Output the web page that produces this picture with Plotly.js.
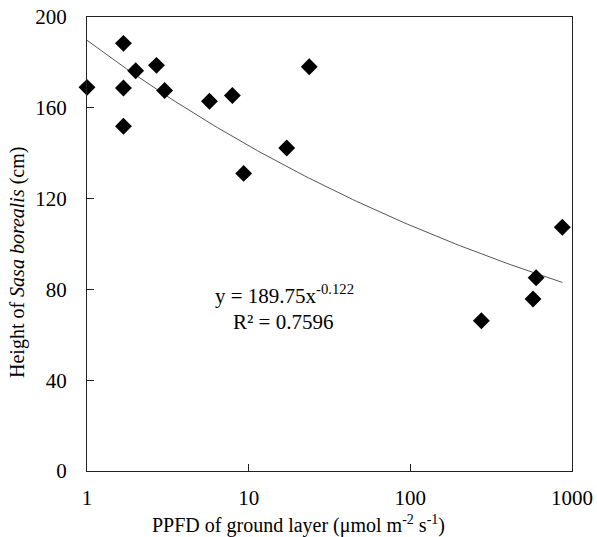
<!DOCTYPE html>
<html>
<head>
<meta charset="utf-8">
<script src="https://cdn.plot.ly/plotly-3.0.1.min.js"></script>
<style>html,body{margin:0;padding:0;background:#fff;}</style>
</head>
<body>
<div id="chart" style="width:597px;height:537px;"></div>
<script>
// Observed data: PPFD of ground layer vs height of Sasa borealis
const ppfd = [1.0, 1.68, 1.68, 1.68, 2.0, 2.69, 3.02, 5.72, 7.93, 9.31, 17.2, 23.7, 275, 574, 600, 871];
const height = [169.0, 188.4, 168.7, 151.9, 176.3, 178.7, 167.6, 162.9, 165.4, 131.1, 142.3, 178.1, 66.2, 75.8, 85.1, 107.4];

// Power-law fit reported on the chart: y = a * x^b
const fitA = 189.75;
const fitB = -0.122;
const fitR2 = 0.7596;

// Axis ticks
const xTickVals = [1, 10, 100, 1000];
const xTickText = ["1", "10", "100", "1000"];
const yTickVals = [0, 40, 80, 120, 160, 200];

// fitted curve evaluated along the x extent of the data
const xMin = Math.min(...ppfd), xMax = Math.max(...ppfd);
const fitX = [], fitY = [];
const nSteps = 120;
for (let i = 0; i <= nSteps; i++) {
  const lx = Math.log10(xMin) + (Math.log10(xMax) - Math.log10(xMin)) * i / nSteps;
  const xv = Math.pow(10, lx);
  fitX.push(xv);
  fitY.push(fitA * Math.pow(xv, fitB));
}

const FAM = 'Liberation Serif, Times New Roman, serif';
function f(size) { return {family: FAM, size: size, color: '#000'}; }

const traces = [
  {
    x: fitX, y: fitY, type: 'scatter', mode: 'lines',
    line: {color: '#555555', width: 1}, hoverinfo: 'skip', showlegend: false
  },
  {
    x: ppfd, y: height, type: 'scatter', mode: 'markers',
    marker: {symbol: 'diamond', size: 13, color: '#000'}, showlegend: false,
    cliponaxis: false
  }
];

const layout = {
  width: 597, height: 537,
  margin: {l: 87, r: 25, t: 17, b: 66},
  paper_bgcolor: '#fff', plot_bgcolor: '#fff',
  font: f(20),
  showlegend: false,
  xaxis: {
    type: 'log', range: [0, Math.log10(1000)],
    tickvals: xTickVals, ticktext: xTickText,
    ticks: 'inside', ticklen: 7, tickcolor: '#222', tickwidth: 1,
    showline: true, linecolor: '#222', linewidth: 1, mirror: true,
    showgrid: false, zeroline: false,
    tickfont: f(21),
    ticklabelstandoff: 8
  },
  yaxis: {
    range: [0, 200],
    tickvals: yTickVals,
    ticks: 'inside', ticklen: 7, tickcolor: '#222', tickwidth: 1,
    showline: true, linecolor: '#222', linewidth: 1, mirror: true,
    showgrid: false, zeroline: false,
    tickfont: f(21),
    ticklabelstandoff: 15
  },
  annotations: [
    {
      xref: 'paper', yref: 'paper', x: (284 - 87) / 485, y: (471 - 294) / 454,
      text: 'y = ' + fitA.toFixed(2) + 'x<sup>' + fitB + '</sup>',
      showarrow: false, xanchor: 'center', yanchor: 'middle',
      font: f(21)
    },
    {
      xref: 'paper', yref: 'paper', x: (283 - 87) / 485, y: (471 - 322) / 454,
      text: 'R² = ' + fitR2.toFixed(4),
      showarrow: false, xanchor: 'center', yanchor: 'middle',
      font: f(21)
    },
    {
      xref: 'paper', yref: 'paper', x: (298 - 87) / 485, y: (471 - 524) / 454,
      text: 'PPFD of ground layer (μmol m<sup>-2</sup> s<sup>-1</sup>)',
      showarrow: false, xanchor: 'center', yanchor: 'middle',
      font: f(20)
    },
    {
      xref: 'paper', yref: 'paper', x: (17 - 87) / 485, y: (471 - 263) / 454,
      text: 'Height of <i>Sasa borealis</i> (cm)', textangle: -90,
      showarrow: false, xanchor: 'center', yanchor: 'middle',
      font: f(20)
    }
  ]
};

Plotly.newPlot('chart', traces, layout, {staticPlot: true, displayModeBar: false});
</script>
</body>
</html>
